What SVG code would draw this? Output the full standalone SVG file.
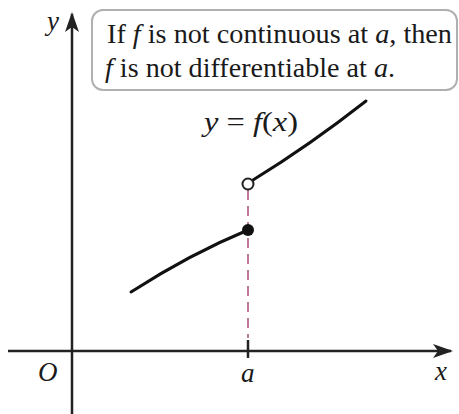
<svg xmlns="http://www.w3.org/2000/svg" width="459" height="414" viewBox="0 0 459 414">
<defs>
<style>
text{font-family:'Liberation Serif','DejaVu Serif',serif;font-size:27px;fill:#1a1a1a}
.i{font-style:italic}
.ax{stroke:#222;stroke-width:2.5;fill:none}
.cv{stroke:#111;stroke-width:3;fill:none;stroke-linecap:round}
</style>
<marker id="ah" viewBox="0 0 20 14" refX="18" refY="7" markerWidth="20" markerHeight="14" markerUnits="userSpaceOnUse" orient="auto">
<path d="M0,0 L20,7 L0,14 L5,7 Z" fill="#222"/>
</marker>
</defs>
<rect width="459" height="414" fill="#fff"/>
<g id="axes">
<line class="ax" x1="8" y1="351" x2="451" y2="351" marker-end="url(#ah)"/>
<line class="ax" x1="72" y1="414" x2="72" y2="14" marker-end="url(#ah)"/>
<line class="ax" x1="248" y1="340" x2="248" y2="358" stroke-width="2"/>
<text class="i" x="47" y="30">y</text>
<text class="i" x="38" y="381">O</text>
<text class="i" x="241" y="382">a</text>
<text class="i" x="435" y="380">x</text>
</g>
<g id="callout">
<rect x="92" y="10" width="365" height="80" rx="11" fill="#fff" stroke="#b0b0b0" stroke-width="2"/>
<text x="107" y="43" textLength="345" lengthAdjust="spacingAndGlyphs">If <tspan class="i">f</tspan> is not continuous at <tspan class="i">a</tspan>, then</text>
<text x="105" y="77" textLength="290" lengthAdjust="spacingAndGlyphs"><tspan class="i">f</tspan> is not differentiable at <tspan class="i">a</tspan>.</text>
</g>
<g id="connectors">
<line x1="248" y1="190" x2="248" y2="338" stroke="#c0789c" stroke-width="2" stroke-dasharray="10,6"/>
</g>
<g id="graph">
<text x="204" y="131" textLength="94" lengthAdjust="spacingAndGlyphs"><tspan class="i">y</tspan> = <tspan class="i">f</tspan>(<tspan class="i">x</tspan>)</text>
<path class="cv" d="M131,292 Q190,254 248,230"/>
<path class="cv" d="M253,180 Q310,145 366,101"/>
<circle cx="248" cy="230" r="6" fill="#111"/>
<circle cx="248" cy="184" r="5.5" fill="#fff" stroke="#222" stroke-width="2"/>
</g>
</svg>
